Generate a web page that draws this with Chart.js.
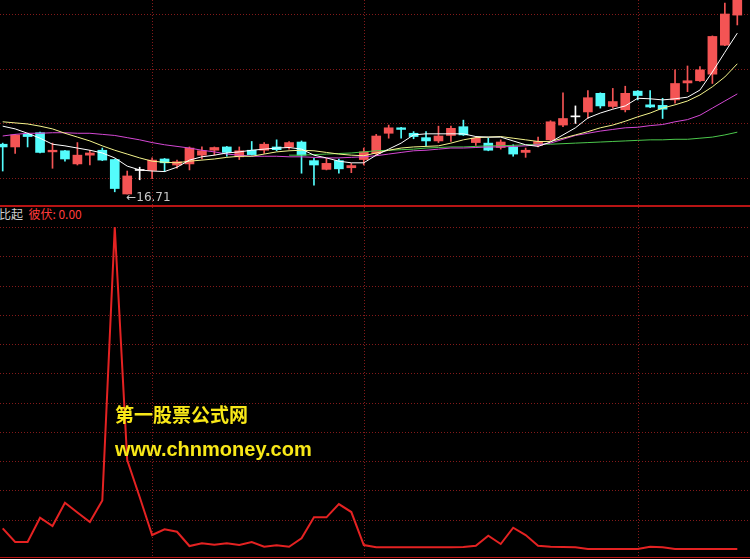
<!DOCTYPE html>
<html lang="zh">
<head>
  <meta charset="UTF-8" />
  <title>此起彼伏</title>
  <script src="https://cdn.jsdelivr.net/npm/chart.js"></script>
  <style>
    body {
      margin: 0;
      background: #000;
    }

    .wrap {
      position: relative;
      width: 750px;
      height: 559px;
      background: #000;
      overflow: hidden;
    }

    canvas {
      position: absolute;
      left: 0;
    }

    #priceChart { top: 0; }
    #bofuChart { top: 207px; }

    .sep {
      position: absolute;
      left: 0;
      width: 750px;
      background: #b81414;
    }

    .title {
      position: absolute;
      left: -1px;
      top: 206px;
      font: 12px "Noto Sans CJK SC", "Liberation Sans", sans-serif;
      line-height: 16px;
      color: #d0d0d0;
      white-space: pre;
    }

    .title span { color: #ff3c3c; }

    .mark {
      position: absolute;
      left: 115px;
      color: #f8e818;
      font-weight: bold;
      white-space: nowrap;
    }
  </style>
</head>
<body>
  <div class="wrap">
    <canvas id="priceChart" width="750" height="205"></canvas>
    <div class="sep" style="top:205px;height:2px"></div>
    <div class="title">比起  <span>彼伏: 0.00</span></div>
    <canvas id="bofuChart" width="750" height="350"></canvas>
    <div class="sep" style="top:557px;height:1px"></div>
    <div class="mark" style="top:402px;font:bold 19px 'Noto Sans CJK SC';line-height:24px">第一股票公式网</div>
    <div class="mark" style="top:437px;font:bold 20px 'Liberation Sans';line-height:24px">www.chnmoney.com</div>
  </div>

  <script>
    // K线数据 (60根)
    const opens = [17.62,17.57,17.80,17.83,17.48,17.50,17.26,17.42,17.51,17.34,
      16.71,17.14,17.14,17.35,17.24,17.26,17.42,17.51,17.57,17.39,
      17.51,17.51,17.57,17.57,17.66,17.32,17.16,17.32,17.19,17.34,
      17.45,17.82,17.92,17.82,17.74,17.68,17.78,17.94,17.65,17.64,
      17.56,17.57,17.47,17.60,17.70,17.97,18.12,18.21,18.55,18.31,
      18.25,18.59,18.34,18.33,18.43,18.74,18.78,18.90,19.43,19.98];
    const highs = [17.64,17.80,17.82,17.84,17.64,17.51,17.65,17.51,17.55,17.35,
      17.13,17.20,17.37,17.36,17.33,17.57,17.57,17.57,17.58,17.57,
      17.67,17.65,17.70,17.67,17.68,17.36,17.36,17.35,17.27,17.55,
      17.80,17.97,17.93,17.85,17.85,17.95,17.95,18.06,17.76,17.73,
      17.70,17.61,17.55,17.75,18.05,18.56,18.32,18.60,18.56,18.64,
      18.68,18.60,18.60,18.46,18.98,19.05,19.04,19.60,20.20,20.26];
    const lows = [17.13,17.45,17.57,17.46,17.18,17.31,17.24,17.24,17.32,16.75,
      16.71,16.97,16.99,17.12,17.18,17.15,17.35,17.42,17.40,17.34,
      17.42,17.45,17.50,17.53,17.09,16.87,17.15,17.09,17.10,17.24,
      17.42,17.73,17.73,17.72,17.59,17.65,17.67,17.78,17.60,17.50,
      17.53,17.40,17.38,17.57,17.68,17.94,18.00,18.09,18.28,18.28,
      18.21,18.43,18.29,18.09,18.37,18.58,18.77,18.73,19.42,19.80];
    const closes = [17.57,17.79,17.76,17.47,17.51,17.35,17.42,17.46,17.33,16.81,
      17.04,17.14,17.33,17.28,17.30,17.55,17.50,17.56,17.47,17.50,
      17.43,17.62,17.52,17.65,17.42,17.24,17.27,17.17,17.23,17.48,
      17.77,17.92,17.89,17.76,17.68,17.77,17.91,17.79,17.73,17.51,
      17.66,17.44,17.51,17.67,18.03,18.09,18.12,18.47,18.32,18.40,
      18.55,18.51,18.30,18.26,18.73,18.78,18.98,19.59,20.00,20.25];

    // 均线
    const ma5 = [17.95,17.90,17.82,17.73,17.62,17.59,17.55,17.51,17.46,17.37,
      17.22,17.15,17.13,17.12,17.20,17.33,17.39,17.42,17.46,17.48,
      17.51,17.53,17.55,17.56,17.53,17.42,17.37,17.31,17.28,17.28,
      17.42,17.53,17.64,17.79,17.81,17.81,17.81,17.81,17.76,17.75,
      17.75,17.68,17.61,17.58,17.66,17.79,17.92,18.10,18.19,18.26,
      18.32,18.46,18.45,18.43,18.45,18.48,18.61,18.94,19.30,19.65];
    const ma10 = [18.03,18.01,17.99,17.95,17.90,17.82,17.75,17.68,17.59,17.51,
      17.44,17.37,17.31,17.29,17.28,17.31,17.33,17.35,17.38,17.40,
      17.40,17.44,17.48,17.50,17.51,17.50,17.47,17.44,17.42,17.41,
      17.46,17.51,17.55,17.57,17.58,17.59,17.64,17.70,17.74,17.75,
      17.76,17.73,17.70,17.67,17.67,17.73,17.79,17.85,17.92,17.97,
      18.04,18.12,18.19,18.28,18.34,18.41,18.52,18.67,18.85,19.09];
    const ma20 = [17.77,17.80,17.82,17.82,17.83,17.83,17.82,17.82,17.80,17.78,
      17.74,17.70,17.65,17.61,17.58,17.55,17.51,17.48,17.44,17.42,
      17.40,17.40,17.40,17.39,17.39,17.38,17.37,17.37,17.38,17.39,
      17.41,17.44,17.47,17.50,17.51,17.53,17.55,17.55,17.56,17.57,
      17.57,17.58,17.59,17.61,17.64,17.71,17.78,17.82,17.86,17.89,
      17.92,17.93,17.96,17.98,18.03,18.07,18.15,18.28,18.41,18.54];
    const ma60 = [null,null,null,null,null,null,null,null,null,null,
      null,null,null,null,null,null,null,null,null,null,
      null,null,null,17.42,17.42,17.43,17.44,17.45,17.46,17.48,
      17.50,17.51,17.52,17.53,17.55,17.56,17.57,17.57,17.58,17.59,
      17.59,17.60,17.61,17.62,17.62,17.63,17.64,17.65,17.66,17.67,
      17.68,17.69,17.70,17.70,17.71,17.71,17.73,17.75,17.79,17.84];

    // 副图 彼伏
    const bofu = [7.07,2.39,2.39,10.68,7.85,15.80,12.46,9.22,16.55,110.0,
      30.38,17.75,4.78,6.72,5.90,1.02,1.95,1.47,1.95,1.37,
      2.39,0.78,1.26,0.78,3.65,10.82,10.82,15.36,12.63,1.37,
      0.58,0.58,0.58,0.58,0.58,0.58,0.58,0.68,1.13,4.54,
      1.71,7.27,4.78,1.13,0.78,0.68,0.58,0,0,0,
      0,0,0.78,0.58,0,0,0,0,0,0];

    const priceTicks = [17, 18, 19, 20];
    const bofuTicks = [10, 20, 30, 40, 50, 60, 70, 80, 90, 100, 110];
    const monthLines = [12, 29, 51];

    const UP = '#f45454', DOWN = '#54fcfc', FLAT = '#ffffff';
    const candleColor = opens.map((o, i) => closes[i] > o ? UP : (closes[i] < o ? DOWN : FLAT));
    const xr = { min: -0.217, max: 60.02 };

    const gridPlugin = {
      id: 'grid',
      beforeDatasetsDraw(chart, args, opts) {
        const { ctx, chartArea: a, scales: { x, y } } = chart;
        ctx.save();
        ctx.strokeStyle = '#841a1a';
        ctx.lineWidth = 1;
        ctx.setLineDash([1, 2]);
        opts.yTicks.forEach(v => {
          const py = Math.round(y.getPixelForValue(v)) + 0.5;
          ctx.beginPath(); ctx.moveTo(a.left, py); ctx.lineTo(a.right, py); ctx.stroke();
        });
        opts.xTicks.forEach(v => {
          const px = Math.round(x.getPixelForValue(v)) + 0.5;
          ctx.beginPath(); ctx.moveTo(px, a.top); ctx.lineTo(px, a.bottom); ctx.stroke();
        });
        ctx.restore();
      }
    };

    const lowLabel = {
      id: 'lowLabel',
      afterDatasetsDraw(chart) {
        const { ctx, scales: { x, y } } = chart;
        let k = 0;
        lows.forEach((v, i) => { if (v < lows[k]) k = i; });
        ctx.save();
        ctx.fillStyle = '#c8c8c8';
        ctx.font = '12px "DejaVu Sans", sans-serif';
        ctx.textBaseline = 'middle';
        ctx.fillText('←' + lows[k].toFixed(2), x.getPixelForValue(k) - 1, y.getPixelForValue(lows[k]) + 4);
        ctx.restore();
      }
    };

    const pts = arr => arr.map((v, i) => ({ x: i, y: v }));
    const maLine = (data, color) => ({
      type: 'line', data: pts(data), borderColor: color, borderWidth: 1,
      pointRadius: 0, tension: 0, order: 0, spanGaps: false
    });

    new Chart(document.getElementById('priceChart'), {
      type: 'bar',
      data: {
        datasets: [
          maLine(ma5, '#ffffff'),
          maLine(ma10, '#f4f48c'),
          maLine(ma20, '#d448d4'),
          maLine(ma60, '#4cc84c'),
          {
            data: opens.map((o, i) => ({ x: i, y: [o, closes[i]] })),
            backgroundColor: candleColor,
            barThickness: 9,
            minBarLength: 1,
            grouped: false,
            order: 1
          },
          {
            data: lows.map((l, i) => ({ x: i, y: [l, highs[i]] })),
            backgroundColor: candleColor,
            barThickness: 1,
            grouped: false,
            order: 2
          }
        ]
      },
      options: {
        responsive: false,
        animation: false,
        layout: { padding: 0 },
        plugins: {
          legend: { display: false },
          tooltip: { enabled: false },
          grid: { yTicks: priceTicks, xTicks: monthLines }
        },
        scales: {
          x: { type: 'linear', display: false, offset: false, min: xr.min, max: xr.max },
          y: { display: false, min: 16.509, max: 20.256 }
        }
      },
      plugins: [gridPlugin, lowLabel]
    });

    new Chart(document.getElementById('bofuChart'), {
      type: 'line',
      data: {
        datasets: [{
          data: pts(bofu),
          borderColor: '#e42222',
          borderWidth: 2,
          pointRadius: 0,
          tension: 0
        }]
      },
      options: {
        responsive: false,
        animation: false,
        layout: { padding: 0 },
        plugins: {
          legend: { display: false },
          tooltip: { enabled: false },
          grid: { yTicks: bofuTicks, xTicks: monthLines }
        },
        scales: {
          x: { type: 'linear', display: false, offset: false, min: xr.min, max: xr.max },
          y: { display: false, min: -2.73, max: 116.83 }
        }
      },
      plugins: [gridPlugin]
    });
  </script>
</body>
</html>
